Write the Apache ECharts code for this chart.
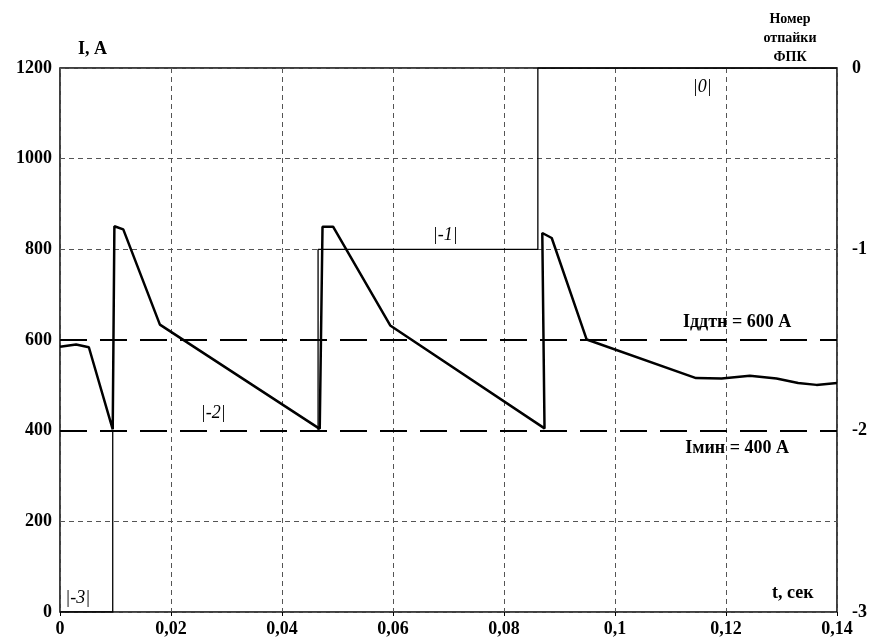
<!DOCTYPE html>
<html>
<head>
<meta charset="utf-8">
<script src="https://cdn.jsdelivr.net/npm/echarts@6/dist/echarts.min.js"></script>
<style>
html, body { margin: 0; padding: 0; background: #fff; }
#chart { width: 875px; height: 639px; }
</style>
</head>
<body>
<div id="chart"></div>
<script>
// ток, A
var curT = [0, 0.0029, 0.0052, 0.0095, 0.0098, 0.0114, 0.018, 0.0468, 0.0473, 0.0492, 0.0595, 0.0873, 0.0869, 0.0886, 0.0949, 0.1146, 0.1192, 0.1243, 0.1291, 0.133, 0.1363, 0.14];
var curI = [585, 590, 584, 403, 851, 844, 634, 404, 850, 850, 632, 405, 836, 825, 601, 516, 515, 521, 515, 505, 501, 505];
// номер отпайки ФПК (null - разрыв линии)
var tapT = [0, 0.0095, 0.0095, 0.0095, 0.0465, 0.0465, 0.0465, 0.0861, 0.0861, 0.14];
var tapN = [-3, -3, -2, null, null, -2, -1, -1, 0, 0];
// уставки
var levels = [600, 400];
// подписи
var noteText = ['|0|', '|-1|', '|-2|', '|-3|'];
var noteT = [0.1157, 0.0694, 0.0276, 0.0032];
var noteI = [1157, 830, 439, 31];
var levelText = ['Iддтн = 600 A', 'Iмин = 400 A'];
var levelT = [0.122, 0.122];
var levelI = [640, 362];

var serif = "'Liberation Serif', 'Times New Roman', serif";

var chart = echarts.init(document.getElementById('chart'));

var curData = [];
for (var i = 0; i < curT.length; i++) {
	curData.push([curT[i], curI[i]]);
}
var tapData = [];
for (var i = 0; i < tapT.length; i++) {
	tapData.push([tapT[i], tapN[i] == null ? '-' : tapN[i]]);
}
var marks = [];
for (var i = 0; i < noteText.length; i++) {
	marks.push({
		coord: [noteT[i], noteI[i]],
		label: { formatter: noteText[i], fontStyle: 'italic', fontWeight: 'normal', fontSize: 18 }
	});
}
for (var i = 0; i < levelText.length; i++) {
	marks.push({
		coord: [levelT[i], levelI[i]],
		label: { formatter: levelText[i], fontWeight: 'bold', fontSize: 18 }
	});
}

var gridColor = '#555';
var option = {
	animation: false,
	backgroundColor: '#fff',
	grid: {
		left: 60, right: 38, top: 68, bottom: 27,
		outerBoundsMode: 'none',
		show: true,
		borderColor: '#000',
		borderWidth: 1.5,
		backgroundColor: 'transparent'
	},
	xAxis: {
		type: 'value',
		min: 0, max: 0.14, interval: 0.02,
		axisLine: { show: false },
		axisTick: { show: true, length: 4, lineStyle: { color: '#000' } },
		axisLabel: {
			margin: 8,
			fontFamily: serif, fontWeight: 'bold', fontSize: 18, color: '#000',
			formatter: function (v) { return String(+v.toFixed(2)).replace('.', ','); }
		},
		splitLine: { show: true, lineStyle: { color: gridColor, type: [5, 4], width: 1 } }
	},
	yAxis: [{
		type: 'value',
		min: 0, max: 1200, interval: 200,
		axisLine: { show: false },
		axisTick: { show: false },
		axisLabel: {
			margin: 8, fontFamily: serif, fontWeight: 'bold', fontSize: 18, color: '#000',
			formatter: function (v) { return String(v); }
		},
		splitLine: {
			show: true,
			lineStyle: {
				color: [gridColor, gridColor, 'rgba(0,0,0,0)', 'rgba(0,0,0,0)', gridColor, gridColor, gridColor],
				type: [5, 4], width: 1
			}
		}
	}, {
		type: 'value',
		min: -3, max: 0, interval: 1,
		axisLine: { show: false },
		axisTick: { show: false },
		axisLabel: {
			margin: 15, fontFamily: serif, fontWeight: 'bold', fontSize: 18, color: '#000',
			formatter: function (v) { return String(v); }
		},
		splitLine: { show: false }
	}],
	series: [{
		name: 'Отпайка',
		type: 'line',
		yAxisIndex: 1,
		data: tapData,
		symbol: 'none',
		connectNulls: false,
		lineStyle: { color: '#000', width: 1.3 },
		z: 2
	}, {
		name: 'Ток',
		type: 'line',
		data: curData,
		symbol: 'none',
		lineStyle: { color: '#000', width: 2.5 },
		z: 3,
		markLine: {
			silent: true,
			symbol: 'none',
			label: { show: false },
			lineStyle: { color: '#000', width: 2, type: [27, 13] },
			data: levels.map(function (v) { return { yAxis: v }; })
		},
		markPoint: {
			silent: true,
			symbol: 'circle',
			symbolSize: 1,
			itemStyle: { color: 'rgba(0,0,0,0)' },
			label: { show: true, position: 'inside', color: '#000', fontFamily: serif },
			data: marks
		}
	}],
	graphic: [{
		type: 'text', left: 78, top: 40,
		style: { text: 'I, A', font: 'bold 18px ' + serif, fill: '#000' }
	}, {
		type: 'text', left: 772, top: 584,
		style: { text: 't, сек', font: 'bold 18px ' + serif, fill: '#000' }
	}, {
		type: 'text', x: 790, y: 10,
		style: {
			text: 'Номер\nотпайки\nФПК', font: 'bold 14px ' + serif, fill: '#000',
			align: 'center', lineHeight: 19
		}
	}]
};
chart.setOption(option);
</script>
</body>
</html>
